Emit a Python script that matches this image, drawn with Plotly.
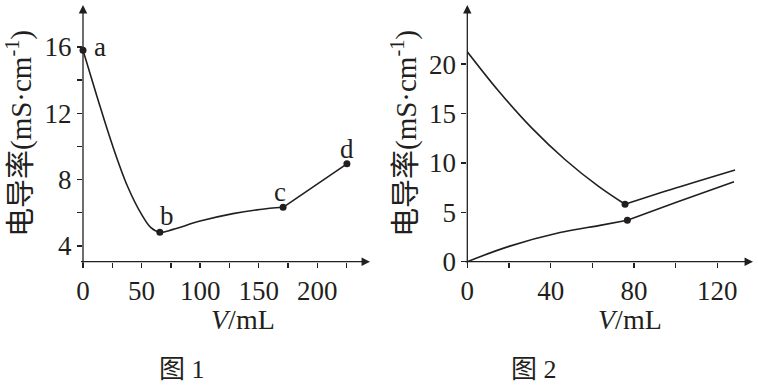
import plotly.graph_objects as go

# ---- Figure 1 data ----
f1_curve_x = [0, 12, 25, 38, 50, 58, 65.6, 77, 100, 128, 151, 170.8]
f1_curve_y = [15.8, 13.0, 10.1, 7.6, 5.9, 5.1, 4.82, 5.0, 5.5, 5.95, 6.2, 6.33]
f1_line_x = [170.8, 225.3]
f1_line_y = [6.33, 8.95]
f1_pt_x = [0, 65.6, 170.8, 225.3]
f1_pt_y = [15.8, 4.82, 6.33, 8.95]
f1_pt_lab = ["a", "b", "c", "d"]
f1_xticks = [0, 25, 50, 75, 100, 125, 150, 175, 200, 225]
f1_xlabels = ["0", "", "50", "", "100", "", "150", "", "200", ""]
f1_yticks = [4, 6, 8, 10, 12, 14, 16]
f1_ylabels = ["4", "", "8", "", "12", "", "16"]

# ---- Figure 2 data ----
f2_up1_x = [0, 15, 31, 47, 63, 75.7]
f2_up1_y = [21.25, 17.28, 13.52, 10.32, 7.62, 5.81]
f2_up2_x = [75.7, 100, 128.5]
f2_up2_y = [5.81, 7.45, 9.28]
f2_lo1_x = [0, 20, 44.5, 63.7, 76.8]
f2_lo1_y = [0, 1.55, 2.95, 3.68, 4.19]
f2_lo2_x = [76.8, 100, 128]
f2_lo2_y = [4.19, 5.98, 8.1]
f2_pt_x = [75.7, 76.8]
f2_pt_y = [5.81, 4.19]
f2_xticks = [0, 20, 40, 60, 80, 100, 120]
f2_xlabels = ["0", "", "40", "", "80", "", "120"]
f2_yticks = [0, 5, 10, 15, 20]
f2_ylabels = ["0", "5", "10", "15", "20"]

INK = "#231f20"
SERIF = "Liberation Serif, Noto Sans CJK SC"
ytitle = "电导率(mS·cm<sup>-1</sup>)"
xtitle = "<i>V</i>/mL"

fig = go.Figure()

def line(x, y, xa, ya, shape):
    fig.add_trace(go.Scatter(x=x, y=y, xaxis=xa, yaxis=ya, mode="lines",
                             line=dict(color=INK, width=1.6, shape=shape, smoothing=1.0),
                             cliponaxis=False, hoverinfo="skip", showlegend=False))

def pts(x, y, xa, ya):
    fig.add_trace(go.Scatter(x=x, y=y, xaxis=xa, yaxis=ya, mode="markers",
                             marker=dict(color=INK, size=7),
                             cliponaxis=False, hoverinfo="skip", showlegend=False))

line(f1_curve_x, f1_curve_y, "x", "y", "spline")
line(f1_line_x, f1_line_y, "x", "y", "linear")
pts(f1_pt_x, f1_pt_y, "x", "y")

line(f2_up1_x, f2_up1_y, "x2", "y2", "spline")
line(f2_up2_x, f2_up2_y, "x2", "y2", "spline")
line(f2_lo1_x, f2_lo1_y, "x2", "y2", "spline")
line(f2_lo2_x, f2_lo2_y, "x2", "y2", "spline")
pts(f2_pt_x, f2_pt_y, "x2", "y2")

W, H = 758, 388
ydom = [(H - 261.7) / H, (H - 5) / H]

axis_common = dict(showgrid=False, zeroline=False, showline=False, automargin=False,
                   ticks="outside", ticklen=5, tickwidth=1.3, tickcolor=INK,
                   tickfont=dict(family=SERIF, size=27, color=INK), fixedrange=True)

fig.update_layout(
    width=W, height=H, margin=dict(l=0, r=0, t=0, b=0),
    paper_bgcolor="white", plot_bgcolor="white",
    xaxis=dict(domain=[83 / W, 370 / W], range=[0, 245], anchor="y",
               tickmode="array", tickvals=f1_xticks, ticktext=f1_xlabels, **axis_common),
    yaxis=dict(domain=ydom, range=[3.05, 18.53], anchor="x",
               tickmode="array", tickvals=f1_yticks, ticktext=f1_ylabels, **axis_common),
    xaxis2=dict(domain=[467.3 / W, 753 / W], range=[0, 137.1], anchor="y2",
                tickmode="array", tickvals=f2_xticks, ticktext=f2_xlabels, **axis_common),
    yaxis2=dict(domain=ydom, range=[0, 25.98], anchor="x2",
                tickmode="array", tickvals=f2_yticks, ticktext=f2_ylabels, **axis_common),
)

ann = []
# axis arrows
for xa, ya in (("x", "y"), ("x2", "y2")):
    xd, yd = xa + " domain", ya + " domain"
    ann.append(dict(xref=xd, yref=yd, axref=xd, ayref=yd, x=0, y=1, ax=0, ay=-0.012,
                    showarrow=True, arrowhead=2, arrowsize=1.3, arrowwidth=1.3,
                    arrowcolor=INK, standoff=0, text=""))
    ann.append(dict(xref=xd, yref=yd, axref=xd, ayref=yd, x=1, y=0, ax=-0.012, ay=0,
                    showarrow=True, arrowhead=2, arrowsize=1.3, arrowwidth=1.3,
                    arrowcolor=INK, standoff=0, text=""))

# point labels
shifts = [(17, 3), (7, 16), (-3, 15), (0, 15)]
for x, y, t, (dx, dy) in zip(f1_pt_x, f1_pt_y, f1_pt_lab, shifts):
    ann.append(dict(xref="x", yref="y", x=x, y=y, text=t, showarrow=False,
                    xshift=dx, yshift=dy, font=dict(family=SERIF, size=27, color=INK)))

# axis titles
for cx in (19, 404):
    ann.append(dict(xref="paper", yref="paper", x=cx / W, y=(H - 134) / H, text=ytitle,
                    textangle=-90, showarrow=False, xanchor="center", yanchor="middle",
                    font=dict(family=SERIF, size=29, color=INK)))
for cx in (243, 630):
    ann.append(dict(xref="paper", yref="paper", x=cx / W, y=(H - 319) / H, text=xtitle,
                    showarrow=False, xanchor="center", yanchor="middle",
                    font=dict(family=SERIF, size=28, color=INK)))
# captions
for cx, t in ((182, "图 1"), (534, "图 2")):
    ann.append(dict(xref="paper", yref="paper", x=cx / W, y=(H - 369) / H, text=t,
                    showarrow=False, xanchor="center", yanchor="middle",
                    font=dict(family=SERIF, size=26, color=INK)))

fig.update_layout(annotations=ann)
fig.write_html("out.html", config={"displayModeBar": False, "staticPlot": True},
               post_script="document.body.style.margin='0';document.body.style.overflow='hidden';")
